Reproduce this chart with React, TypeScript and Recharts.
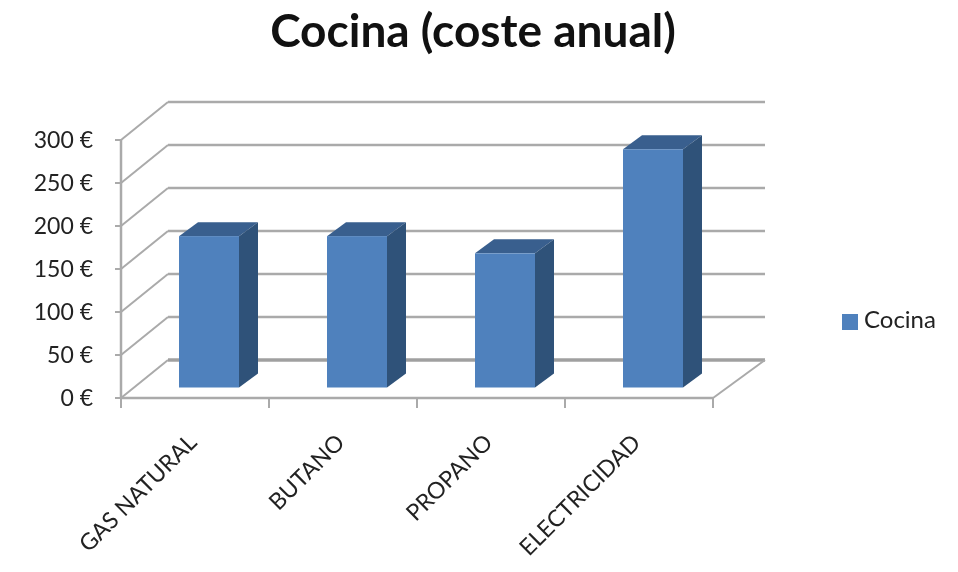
import { BarChart, Bar, XAxis, YAxis, CartesianGrid, Legend } from 'recharts';

const categories = ['GAS NATURAL', 'BUTANO', 'PROPANO', 'ELECTRICIDAD'];
const cocina = [176, 176, 156, 277];
const yTicks = [0, 50, 100, 150, 200, 250, 300];

const chartData = categories.map((name, i) => ({ name, Cocina: cocina[i] }));

const GRID = '#aaaaaa';
const TEXT = '#222222';
const FONT = 'Lato, "Open Sans", sans-serif';

// fake 3D: how far the back wall and the bars are pushed from the front plane
const WALL_LEFT = 47;
const WALL_RIGHT = 52;
const WALL_UP = 38;
const BAR_X = 14;
const BAR_UP = 10.5;
const DEPTH_X = 19;
const DEPTH_Y = 14;

function WallLine(props: any) {
  const { x1, x2, y1, index } = props;
  const floor = y1 > 390;
  return (
    <g key={index}>
      <line x1={x1} y1={y1} x2={x1 + WALL_LEFT} y2={y1 - WALL_UP} stroke={GRID} strokeWidth={2} />
      <line
        x1={x1 + WALL_LEFT}
        y1={y1 - WALL_UP}
        x2={x2 + WALL_RIGHT}
        y2={y1 - WALL_UP}
        stroke={floor ? '#a0a0a0' : GRID}
        strokeWidth={floor ? 3.5 : 2.5}
      />
      {floor && (
        <line x1={x2} y1={y1} x2={x2 + WALL_RIGHT} y2={y1 - WALL_UP} stroke={GRID} strokeWidth={2} />
      )}
    </g>
  );
}

function Bar3D(props: any) {
  const { x, y, width, height } = props;
  const left = x + BAR_X;
  const right = left + width;
  const top = y - BAR_UP;
  const bottom = top + height;
  return (
    <g>
      <polygon
        points={`${left},${top} ${right},${top} ${right + DEPTH_X},${top - DEPTH_Y} ${left + DEPTH_X},${top - DEPTH_Y}`}
        fill="#395f8e"
      />
      <polygon
        points={`${right},${top} ${right + DEPTH_X},${top - DEPTH_Y} ${right + DEPTH_X},${bottom - DEPTH_Y} ${right},${bottom}`}
        fill="#2f5279"
      />
      <rect x={left} y={top} width={width} height={height} fill="#4f81bd" />
    </g>
  );
}

function CategoryTick(props: any) {
  const { x, y, payload, index, visibleTicksCount } = props;
  const half = 74;
  return (
    <g>
      <line x1={x - half} y1={y - 8} x2={x - half} y2={y + 2} stroke={GRID} strokeWidth={2} />
      {index === visibleTicksCount - 1 && (
        <line x1={x + half} y1={y - 8} x2={x + half} y2={y + 2} stroke={GRID} strokeWidth={2} />
      )}
      <text
        x={x + 3}
        y={y + 38}
        transform={`rotate(-45 ${x + 3} ${y + 38})`}
        textAnchor="end"
        fontSize={23}
        fontFamily={FONT}
        fill={TEXT}
      >
        {payload.value}
      </text>
    </g>
  );
}

export default function App() {
  return (
    <div style={{ position: 'absolute', left: 0, top: 0, filter: 'blur(0.7px)' }}>
      <BarChart
        width={958}
        height={572}
        data={chartData}
        barSize={60}
        margin={{ top: 140, right: 129, bottom: 74, left: 41 }}
      >
        <text
          x={473}
          y={47}
          textAnchor="middle"
          fontSize={46}
          fontWeight={700}
          fontFamily={FONT}
          fill="#111111"
        >
          Cocina (coste anual)
        </text>
        <CartesianGrid horizontal={WallLine} vertical={false} />
        <XAxis
          dataKey="name"
          height={100}
          tickLine={false}
          interval={0}
          axisLine={{ stroke: GRID, strokeWidth: 2.5 }}
          tick={CategoryTick}
        />
        <YAxis
          width={80}
          domain={[0, 300]}
          ticks={yTicks}
          tickFormatter={(v: number) => `${v} €`}
          tickSize={6}
          tickMargin={22}
          axisLine={{ stroke: GRID, strokeWidth: 2.5 }}
          tickLine={{ stroke: GRID, strokeWidth: 2 }}
          tick={{ fontSize: 23, fontFamily: FONT, fill: TEXT }}
        />
        <Legend
          layout="vertical"
          align="right"
          verticalAlign="middle"
          width={116}
          iconType="square"
          iconSize={16}
          wrapperStyle={{ left: 842, top: 304, fontSize: 24, fontFamily: FONT }}
          formatter={(value: string) => <span style={{ color: TEXT, marginLeft: 2 }}>{value}</span>}
        />
        <Bar dataKey="Cocina" fill="#4f81bd" shape={Bar3D} isAnimationActive={false} />
      </BarChart>
    </div>
  );
}
